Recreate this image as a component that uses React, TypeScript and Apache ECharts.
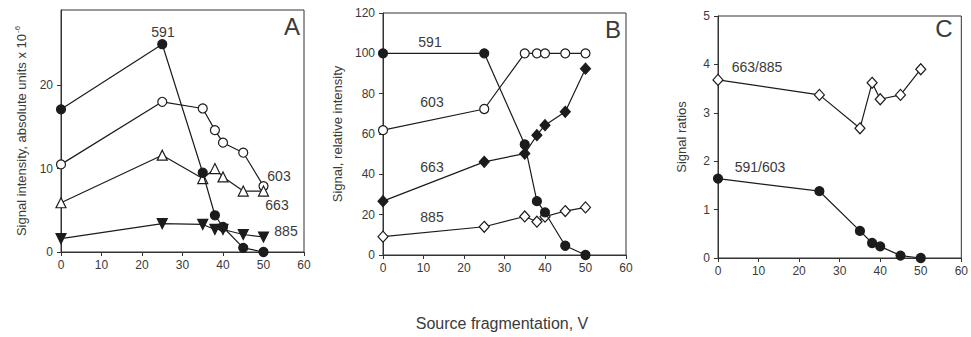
import React, { useEffect, useRef } from "react";
import * as echarts from "echarts";

// Source fragmentation voltages (V)
const voltages = [0, 25, 35, 38, 40, 45, 50];

// Panel A: absolute signal intensity (x 10^-6)
const absIon591 = [17.1, 24.9, 9.5, 4.4, 3.0, 0.5, 0.0];
const absIon603 = [10.5, 18.0, 17.2, 14.6, 13.1, 11.9, 7.9];
const absIon663 = [5.9, 11.6, 8.8, 10.0, 9.0, 7.3, 7.3];
const absIon885 = [1.6, 3.4, 3.3, 2.7, 2.7, 2.1, 1.8];

// Panel B: relative intensity (%)
const relIon591 = [100, 100, 54.8, 26.7, 21.1, 4.6, 0];
const relIon603 = [61.9, 72.4, 100, 100, 100, 100, 100];
const relIon663 = [26.7, 46.2, 50.3, 59.4, 64.4, 71.0, 92.4];
const relIon885 = [9.1, 14.0, 19.1, 16.5, 19.0, 21.8, 23.6];

// Panel C: signal ratios
const ratio663to885 = [3.68, 3.37, 2.68, 3.62, 3.28, 3.37, 3.9];
const ratio591to603 = [1.64, 1.38, 0.56, 0.31, 0.24, 0.05, 0.0];

const yTicksA = [0, 10, 20];

const FONT = "Liberation Sans, Arial, sans-serif";
const INK = "#1c1c1c";
const TEXT = "#3a3a3a";

const pairs = (ys: number[]) => voltages.map((v, i) => [v, ys[i]]);

type Mark = "filledCircle" | "openCircle" | "openTriangle" | "filledTriangleDown" | "filledDiamond" | "openDiamond";

function lineSeries(name: string, ys: number[], mark: Mark, axisIndex: number) {
  const open = mark.startsWith("open");
  let symbol = "circle";
  let size: number | number[] = 9;
  let rotate = 0;
  if (mark.includes("Triangle")) {
    symbol = "triangle";
    size = 10;
    if (mark === "filledTriangleDown") rotate = 180;
  } else if (mark.includes("Diamond")) {
    symbol = "diamond";
    size = [10, 11];
  }
  return {
    type: "line",
    name,
    xAxisIndex: axisIndex,
    yAxisIndex: axisIndex,
    data: pairs(ys),
    symbol,
    symbolSize: size,
    symbolRotate: rotate,
    showAllSymbol: true,
    lineStyle: { color: INK, width: 1.2 },
    itemStyle: {
      color: open ? "#ffffff" : INK,
      borderColor: INK,
      borderWidth: 1.2,
    },
    z: open ? 3 : 4,
  };
}

function xAxis(gridIndex: number) {
  return {
    type: "value",
    gridIndex,
    min: 0,
    max: 60,
    interval: 10,
    axisLine: { show: true, lineStyle: { color: "#333", width: 1 } },
    axisTick: { show: true, length: 4, lineStyle: { color: "#333" } },
    axisLabel: { color: TEXT, fontSize: 12, fontFamily: FONT, margin: 7 },
    splitLine: { show: false },
  };
}

const nameStyle = { color: TEXT, fontSize: 13, fontFamily: FONT };

function yAxis(gridIndex: number, extra: any) {
  return {
    type: "value",
    gridIndex,
    nameLocation: "middle",
    nameRotate: 90,
    nameTextStyle: nameStyle,
    axisLine: { show: true, lineStyle: { color: "#333", width: 1 } },
    axisTick: { show: true, length: 4, lineStyle: { color: "#333" } },
    axisLabel: { color: TEXT, fontSize: 12, fontFamily: FONT, margin: 8 },
    splitLine: { show: false },
    ...extra,
  };
}

function label(text: string, left: number, top: number, size = 14) {
  return {
    type: "text",
    x: left,
    y: top,
    style: {
      text,
      fill: TEXT,
      fontSize: size,
      fontFamily: FONT,
      textAlign: "center",
      textVerticalAlign: "middle",
    },
  };
}

export default function App() {
  const ref = useRef<HTMLDivElement>(null);

  useEffect(() => {
    if (!ref.current) return;
    const chart = echarts.init(ref.current, undefined, { renderer: "svg" });
    const gridBase = { show: true, borderColor: "#333", borderWidth: 1, backgroundColor: "transparent", containLabel: false };
    chart.setOption({
      animation: false,
      backgroundColor: "#ffffff",
      grid: [
        { ...gridBase, left: 61, top: 10, width: 243, height: 242 },
        { ...gridBase, left: 383, top: 13, width: 243, height: 242 },
        { ...gridBase, left: 718, top: 16, width: 244, height: 242 },
      ],
      xAxis: [xAxis(0), xAxis(1), xAxis(2)],
      yAxis: [
        yAxis(0, {
          min: 0,
          max: 29,
          interval: 10,
          name: "Signal intensity, absolute units x 10{sup|-6}",
          nameGap: 32,
          nameTextStyle: {
            ...nameStyle,
            rich: { sup: { fontSize: 8, color: TEXT, fontFamily: FONT, verticalAlign: "top", padding: [0, 0, 8, 1] } },
          },
          axisTick: { show: true, length: 4, lineStyle: { color: "#333" }, customValues: yTicksA },
          axisLabel: { color: TEXT, fontSize: 12, fontFamily: FONT, margin: 8, customValues: yTicksA },
        }),
        yAxis(1, { min: 0, max: 120, interval: 20, name: "Signal, relative intensity", nameGap: 39 }),
        yAxis(2, { min: 0, max: 5, interval: 1, name: "Signal ratios", nameGap: 30 }),
      ],
      series: [
        lineSeries("591", absIon591, "filledCircle", 0),
        lineSeries("603", absIon603, "openCircle", 0),
        lineSeries("663", absIon663, "openTriangle", 0),
        lineSeries("885", absIon885, "filledTriangleDown", 0),
        lineSeries("591", relIon591, "filledCircle", 1),
        lineSeries("603", relIon603, "openCircle", 1),
        lineSeries("663", relIon663, "filledDiamond", 1),
        lineSeries("885", relIon885, "openDiamond", 1),
        lineSeries("663/885", ratio663to885, "openDiamond", 2),
        lineSeries("591/603", ratio591to603, "filledCircle", 2),
      ],
      graphic: [
        label("A", 292, 26, 24),
        label("B", 613, 29, 24),
        label("C", 944, 28, 24),
        label("591", 163, 32),
        label("603", 279, 176),
        label("663", 277, 205),
        label("885", 286, 231),
        label("591", 430, 42),
        label("603", 432, 102),
        label("663", 432, 167),
        label("885", 432, 217),
        label("663/885", 757, 67),
        label("591/603", 760, 167),
        label("Source fragmentation, V", 502, 323, 16),
      ],
    });
    return () => chart.dispose();
  }, []);

  return (
    <div
      ref={ref}
      style={{ position: "fixed", left: 0, top: 0, width: 971, height: 337, background: "#fff" }}
    />
  );
}
